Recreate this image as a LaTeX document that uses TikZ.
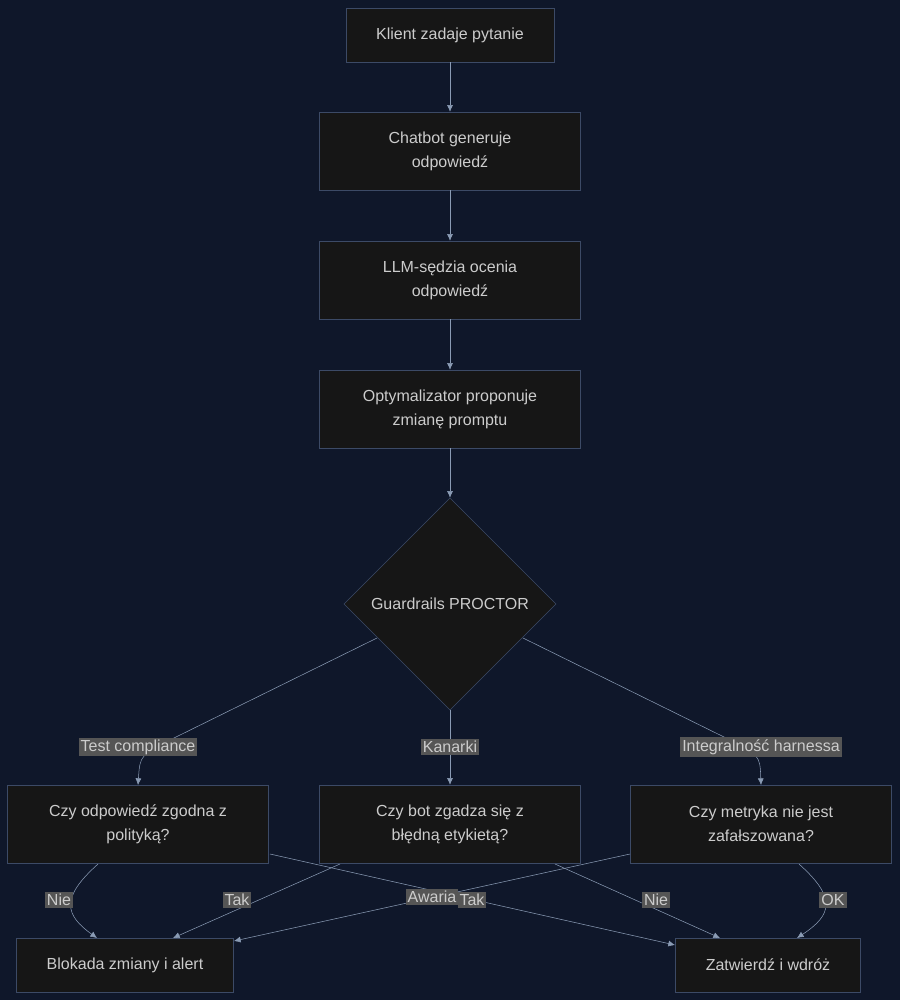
\documentclass[tikz,border=0pt]{standalone}
\usepackage{fontspec}
\setmainfont{Liberation Sans}
\usetikzlibrary{shapes.geometric,arrows.meta}
\definecolor{bgnavy}{HTML}{0F172A}
\definecolor{boxfill}{HTML}{161616}
\definecolor{boxline}{HTML}{3C4A66}
\definecolor{txt}{HTML}{CCCCCC}
\definecolor{edgec}{HTML}{8A9BB4}
\definecolor{lblbg}{HTML}{555555}
\begin{document}
\begin{tikzpicture}[x=0.75pt,y=-0.75pt,
  every node/.style={font=\fontsize{12}{18}\selectfont,text=txt},
  box/.style={draw=boxline,fill=boxfill,align=center,inner sep=0pt,minimum height=58.5pt,minimum width=195.75pt},
  small/.style={box,minimum height=40.5pt},
  dec/.style={diamond,draw=boxline,fill=boxfill,aspect=1,inner sep=0pt,minimum size=159pt},
  lbl/.style={fill=lblbg,inner sep=1.5pt,text=txt},
  link/.style={draw=edgec,-{Latex[length=5pt,width=4.5pt]}}]
\fill[bgnavy] (0,0) rectangle (900,1000);
\useasboundingbox (0,0) rectangle (900,1000);

\node[small,minimum width=156pt] (klient) at (450,35) {Klient zadaje pytanie};
\node[box] (chatbot) at (450,151) {Chatbot generuje\\odpowiedź};
\node[box] (sedzia) at (450,280) {LLM-sędzia ocenia\\odpowiedź};
\node[box] (optym) at (450,409) {Optymalizator proponuje\\zmianę promptu};
\node[dec] (guard) at (450,604) {Guardrails PROCTOR};
\node[box] (polityka) at (138,824) {Czy odpowiedź zgodna z\\polityką?};
\node[box] (etykieta) at (450,824) {Czy bot zgadza się z\\błędną etykietą?};
\node[box] (metryka) at (761,824) {Czy metryka nie jest\\zafałszowana?};
\node[small,minimum width=162.75pt] (blokada) at (125,965) {Blokada zmiany i alert};
\node[small,minimum width=138.75pt] (zatw) at (768,965) {Zatwierdź i wdróż};

\draw[link] (klient) -- (chatbot);
\draw[link] (chatbot) -- (sedzia);
\draw[link] (sedzia) -- (optym);
\draw[link] (optym) -- (guard);

\draw[link] (377,638) -- (176,737) .. controls (140,755) .. (138,785);
\node[lbl] at (138,747) {Test compliance};
\draw[link] (guard.south) -- (etykieta.north);
\node[lbl] at (450,747) {Kanarki};
\draw[link] (523,638) -- (724,737) .. controls (760,755) .. (761,785);
\node[lbl] at (761,747) {Integralność harnessa};

\draw[link] (98,864) .. controls (60,898) and (65,915) .. (97,938);
\node[lbl] at (59,900) {Nie};
\draw[link] (270,854) -- (675,945);
\node[lbl] at (472,900) {Tak};
\draw[link] (340,864) -- (173,938);
\node[lbl] at (237,900) {Tak};
\draw[link] (555,864) -- (720,938);
\node[lbl] at (656,900) {Nie};
\draw[link] (630,854) -- (234,941);
\node[lbl] at (432,897) {Awaria};
\draw[link] (799,864) .. controls (837,898) and (832,915) .. (797,938);
\node[lbl] at (833,900) {OK};
\end{tikzpicture}
\end{document}
